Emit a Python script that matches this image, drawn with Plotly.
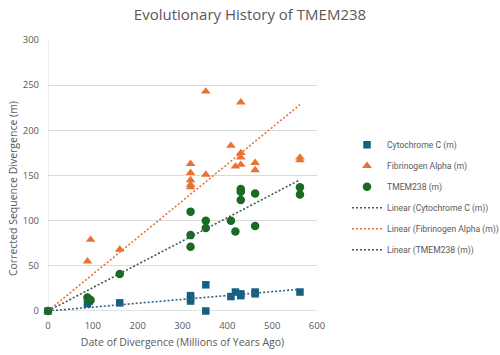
import numpy as np
import plotly.graph_objects as go

# Date of divergence (Mya) and corrected sequence divergence (m)
cyto_x = [0, 88, 92, 160, 318, 318, 318, 352, 352, 408, 418, 430, 430, 462, 462, 562]
cyto_y = [0, 8, 11, 9, 17, 14, 11, 29, 0, 16, 21, 19, 17, 21, 19, 21]

fib_x = [0, 88, 95, 160, 318, 318, 318, 318, 318, 352, 352, 408, 418, 430, 430, 430, 430, 462, 462, 562, 562]
fib_y = [0, 55, 79, 68, 163, 153, 145, 140, 137, 243, 151, 183, 160, 231, 175, 170, 162, 164, 156, 170, 167]

tm_x = [0, 88, 92, 95, 160, 318, 318, 318, 352, 352, 408, 418, 430, 430, 430, 462, 462, 562, 562]
tm_y = [0, 15, 13, 12, 41, 110, 84, 71, 100, 92, 100, 88, 135, 132, 123, 130, 94, 137, 129]

names = ["Cytochrome C (m)", "Fibrinogen Alpha (m)", "TMEM238 (m)"]
trend_names = ["Linear (Cytochrome C (m))", "Linear (Fibrinogen Alpha (m))", "Linear (TMEM238 (m))"]

title = "Evolutionary History of TMEM238"
x_title = "Date of Divergence (Millions of Years Ago)"
y_title = "Corrected Sequence Divergence (m)"

colors = ["#156082", "#E97132", "#196B24"]
trend_colors = ["#2F5F7F", "#E97132", "#3B5E4A"]
symbols = ["square", "triangle-up", "circle"]
sizes = [7.5, 8.5, 8.5]

series = [(cyto_x, cyto_y), (fib_x, fib_y), (tm_x, tm_y)]

fig = go.Figure()
for i, ((xs, ys), n, c, s, sz) in enumerate(zip(series, names, colors, symbols, sizes)):
    fig.add_trace(go.Scatter(x=xs, y=ys, mode="markers", name=n, legendgroup=f"m{i}",
                             marker=dict(color=c, symbol=s, size=sz, line=dict(width=0)),
                             cliponaxis=False))

for i, ((xs, ys), n, c) in enumerate(zip(series, trend_names, trend_colors)):
    xa = np.array(xs, float)
    ya = np.array(ys, float)
    m = (xa * ya).sum() / (xa * xa).sum()  # linear trend through origin
    tx = np.array([0.0, xa.max()])
    fig.add_trace(go.Scatter(x=tx, y=m * tx, mode="lines", name=n, legendgroup=f"t{i}",
                             line=dict(color=c, width=1.6, dash="2px,2px")))

fig.update_layout(
    width=500, height=355,
    margin=dict(l=48, r=183, t=40, b=44, autoexpand=False),
    paper_bgcolor="white", plot_bgcolor="white",
    font=dict(family="Open Sans, Roboto, sans-serif", color="#595959", size=10),
    title=dict(text=title, x=0.5, xanchor="center", y=0.958, yanchor="middle",
               font=dict(size=15, color="#595959")),
    showlegend=True,
    legend=dict(xref="container", yref="container", x=0.694, xanchor="left",
                y=0.633, yanchor="top",
                font=dict(family="Roboto, sans-serif", size=8.6, color="#595959"),
                bgcolor="rgba(0,0,0,0)", tracegroupgap=2, itemwidth=30),
    xaxis=dict(range=[0, 600], dtick=100, showgrid=False, zeroline=False,
               showline=False, ticks="", tickfont=dict(size=9.5),
               ticklabelstandoff=7, automargin=False,
               title=dict(text=x_title, font=dict(size=10.5), standoff=8)),
    yaxis=dict(range=[0, 300], dtick=50, showgrid=True, gridcolor="#D9D9D9",
               gridwidth=1, zeroline=False, showline=False, ticks="",
               tickfont=dict(size=9.5), ticklabelstandoff=8, automargin=False),
    annotations=[dict(text=y_title, xref="paper", yref="paper", x=-0.13, y=0.45,
                      xanchor="center", yanchor="middle", textangle=-90, showarrow=False,
                      font=dict(size=10.5, color="#595959"))],
)
fig.add_shape(type="line", xref="x", yref="paper", x0=0, x1=0, y0=0, y1=1,
              line=dict(color="#D9D9D9", width=1), layer="below")
fig.add_shape(type="line", xref="paper", yref="y", x0=0, x1=1, y0=0, y1=0,
              line=dict(color="#D9D9D9", width=1.5), layer="below")

fig.write_html("out.html", config={"displayModeBar": False},
               post_script="document.body.style.margin='0';document.body.style.padding='0';")
